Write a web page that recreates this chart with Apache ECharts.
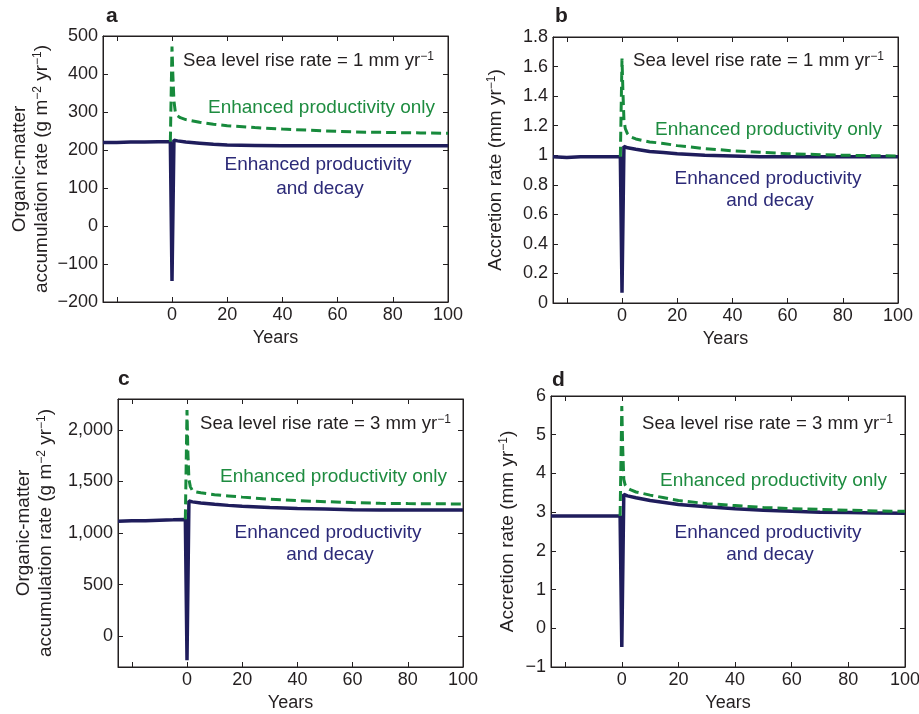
<!DOCTYPE html>
<html><head><meta charset="utf-8">
<script src="https://cdn.jsdelivr.net/npm/echarts@6/dist/echarts.min.js"></script>
<style>html,body{margin:0;padding:0;background:#fff}#c{width:919px;height:714px}</style>
</head><body><div id="c"></div>
<script>
// ---- data ----
const blueYears  = [-25, -20, -15, -10, -5, -0.6, 0, 0.7, 2, 5, 10, 15, 20, 30, 40, 50, 60, 70, 80, 90, 100];
const greenYears = [-0.6, 0, 0.3, 0.7, 1.2, 2, 3, 5, 10, 15, 20, 30, 40, 50, 60, 70, 80, 90, 100];

const aBlue  = [220, 220, 221, 221, 222, 222, -145, 226, 224, 221, 218, 215, 213, 212, 211, 211, 211, 211, 211, 211, 211];
const aGreen = [222, 472, 400, 330, 300, 290, 285, 280, 273, 268, 264, 259, 255, 252, 249, 247, 246, 245, 244];

const bBlue  = [0.99, 0.985, 0.99, 0.99, 0.99, 0.99, 0.07, 1.06, 1.05, 1.04, 1.025, 1.018, 1.01, 1.0, 0.995, 0.99, 0.99, 0.99, 0.99, 0.99, 0.99];
const bGreen = [0.99, 1.655, 1.45, 1.24, 1.18, 1.145, 1.125, 1.11, 1.09, 1.08, 1.065, 1.045, 1.03, 1.02, 1.01, 1.005, 1.0, 0.997, 0.995];

const cBlue  = [1115, 1118, 1120, 1124, 1128, 1132, -235, 1310, 1302, 1292, 1278, 1268, 1260, 1248, 1238, 1232, 1226, 1224, 1222, 1222, 1222];
const cGreen = [1132, 2194, 1800, 1520, 1450, 1410, 1400, 1390, 1372, 1360, 1348, 1327, 1314, 1304, 1295, 1288, 1285, 1283, 1282];

const dBlue  = [2.9, 2.9, 2.9, 2.9, 2.9, 2.9, -0.48, 3.46, 3.42, 3.37, 3.3, 3.25, 3.2, 3.14, 3.09, 3.05, 3.02, 3.0, 2.99, 2.98, 2.97];
const dGreen = [2.9, 5.74, 4.7, 3.85, 3.7, 3.62, 3.58, 3.52, 3.44, 3.37, 3.3, 3.22, 3.17, 3.12, 3.09, 3.07, 3.05, 3.03, 3.02];

const xTickValues  = [-20, 0, 20, 40, 60, 80, 100];
const xLabelValues = [0, 20, 40, 60, 80, 100];
const aYTicks = [-200, -100, 0, 100, 200, 300, 400, 500];
const bYTicks = [0, 0.2, 0.4, 0.6, 0.8, 1, 1.2, 1.4, 1.6, 1.8];
const cYTicks = [0, 500, 1000, 1500, 2000];
const dYTicks = [-1, 0, 1, 2, 3, 4, 5, 6];

const panelLetters = ['a', 'b', 'c', 'd'];
const seaLevelRates = ['1', '1', '3', '3'];
// ---------------------------------------

const FONT = "'Liberation Sans', Arial, Helvetica, sans-serif";
const INK = '#231f20';
const BLUE = '#1f1d5c';
const GREEN = '#178a3c';
const GREEN_TXT = '#1e8c40';
const BLUE_TXT = '#2c2a78';

const grids = [
  {left: 103, top: 36, width: 345, height: 266},
  {left: 553, top: 37, width: 345, height: 266},
  {left: 118, top: 399, width: 345, height: 268},
  {left: 551, top: 396, width: 354, height: 271}
];

const yRanges = [
  {min: -200, max: 500, ticks: aYTicks},
  {min: 0, max: 1.8, ticks: bYTicks},
  {min: -300, max: 2300, ticks: cYTicks},
  {min: -1, max: 6, ticks: dYTicks}
];

const supRich = {
  n: {fontSize: 19, fontFamily: FONT, color: INK, lineHeight: 22},
  s: {fontSize: 12, fontFamily: FONT, color: INK, verticalAlign: 'top', lineHeight: 22, padding: [1, 0, 0, 0]}
};

const yNames = [
  '{n|Organic-matter}\n{n|accumulation rate (g m}{s|−2}{n| yr}{s|−1}{n|)}',
  '{n|Accretion rate (mm yr}{s|−1}{n|)}',
  '{n|Organic-matter}\n{n|accumulation rate (g m}{s|−2}{n| yr}{s|−1}{n|)}',
  '{n|Accretion rate (mm yr}{s|−1}{n|)}'
];
const yNameGaps = [50, 46, 61, 32];

function fmtY(v, i) {
  let s;
  if (i === 2) s = Math.abs(v).toLocaleString('en-US');
  else s = String(Math.round(Math.abs(v) * 100) / 100);
  return (v < 0 ? '−' : '') + s;
}

const lineCol = {color: INK, width: 1};
const xAxis = [], yAxis = [], series = [];
grids.forEach((g, i) => {
  xAxis.push({
    type: 'value', gridIndex: i, position: 'bottom', min: -25, max: 100,
    name: 'Years', nameLocation: 'middle', nameGap: 27,
    nameTextStyle: {fontSize: 18, fontFamily: FONT, color: INK},
    axisLine: {onZero: false, lineStyle: lineCol},
    axisTick: {inside: true, length: 5, customValues: xTickValues, lineStyle: lineCol},
    axisLabel: {customValues: xLabelValues, margin: 4, fontSize: 18, fontFamily: FONT, color: INK},
    splitLine: {show: false}
  });
  xAxis.push({
    type: 'value', gridIndex: i, position: 'top', min: -25, max: 100,
    axisLine: {onZero: false, lineStyle: lineCol},
    axisTick: {inside: true, length: 5, customValues: xTickValues, lineStyle: lineCol},
    axisLabel: {show: false}, splitLine: {show: false}
  });
  const r = yRanges[i];
  yAxis.push({
    type: 'value', gridIndex: i, position: 'left', min: r.min, max: r.max,
    name: yNames[i], nameLocation: 'middle', nameGap: yNameGaps[i],
    nameTextStyle: {rich: supRich, lineHeight: 22, align: 'center'},
    axisLine: {onZero: false, lineStyle: lineCol},
    axisTick: {inside: true, length: 5, customValues: r.ticks, lineStyle: lineCol},
    axisLabel: {customValues: r.ticks, margin: 5, fontSize: 18, fontFamily: FONT, color: INK,
      formatter: v => fmtY(v, i)},
    splitLine: {show: false}
  });
  yAxis.push({
    type: 'value', gridIndex: i, position: 'right', min: r.min, max: r.max,
    axisLine: {onZero: false, lineStyle: lineCol},
    axisTick: {inside: true, length: 5, customValues: r.ticks, lineStyle: lineCol},
    axisLabel: {show: false}, splitLine: {show: false}
  });
});

const blues = [aBlue, bBlue, cBlue, dBlue];
const greens = [aGreen, bGreen, cGreen, dGreen];
blues.forEach((vals, i) => {
  series.push({
    type: 'line', xAxisIndex: i * 2, yAxisIndex: i * 2, symbol: 'none', z: 3,
    data: blueYears.map((x, k) => [x, vals[k]]),
    lineStyle: {color: BLUE, width: 3.5}
  });
});
greens.forEach((vals, i) => {
  series.push({
    type: 'line', xAxisIndex: i * 2, yAxisIndex: i * 2, symbol: 'none', z: 4,
    data: greenYears.map((x, k) => [x, vals[k]]),
    lineStyle: {color: GREEN, width: 3, type: [10, 5]}
  });
});

// annotation positions (pixels)
const letterPos = [[106, 16.6], [555, 16.6], [118, 379.5], [552, 380.5]];
const seaPos = [[183, 60.5], [633, 60.5], [200, 423.7], [642, 423.7]];
const onlyPos = [[208, 108], [655, 130], [220, 477], [660, 480.3]];
const decayPos = [[318, 165, 320, 188.5], [768, 179, 770, 201], [328, 532.3, 330, 554.3], [768, 532.3, 770, 554.3]];

const graphic = [];
for (let i = 0; i < 4; i++) {
  graphic.push({type: 'text', x: letterPos[i][0], y: letterPos[i][1],
    style: {text: panelLetters[i], font: "bold 21px " + FONT, fill: INK, textVerticalAlign: 'middle'}});
  graphic.push({type: 'text', x: seaPos[i][0], y: seaPos[i][1],
    style: {text: '{n|Sea level rise rate = ' + seaLevelRates[i] + ' mm yr}{s|−1}',
      textVerticalAlign: 'middle',
      rich: {
        n: {fontSize: 18.6, fontFamily: FONT, fill: INK, lineHeight: 20},
        s: {fontSize: 12, fontFamily: FONT, fill: INK, verticalAlign: 'top', lineHeight: 20}
      }}});
  graphic.push({type: 'text', x: onlyPos[i][0], y: onlyPos[i][1],
    style: {text: 'Enhanced productivity only', fontSize: 19, fontFamily: FONT, fill: GREEN_TXT, textVerticalAlign: 'middle'}});
  graphic.push({type: 'text', x: decayPos[i][0], y: decayPos[i][1],
    style: {text: 'Enhanced productivity', fontSize: 19, fontFamily: FONT, fill: BLUE_TXT, textAlign: 'center', textVerticalAlign: 'middle'}});
  graphic.push({type: 'text', x: decayPos[i][2], y: decayPos[i][3],
    style: {text: 'and decay', fontSize: 19, fontFamily: FONT, fill: BLUE_TXT, textAlign: 'center', textVerticalAlign: 'middle'}});
}

const chart = echarts.init(document.getElementById('c'), null, {renderer: 'canvas'});
chart.setOption({
  animation: false,
  backgroundColor: '#fff',
  grid: grids.map(g => Object.assign({outerBoundsMode: 'none', containLabel: false,
    show: true, borderColor: INK, borderWidth: 1, backgroundColor: 'transparent'}, g)),
  xAxis, yAxis, series, graphic
});
</script></body></html>
